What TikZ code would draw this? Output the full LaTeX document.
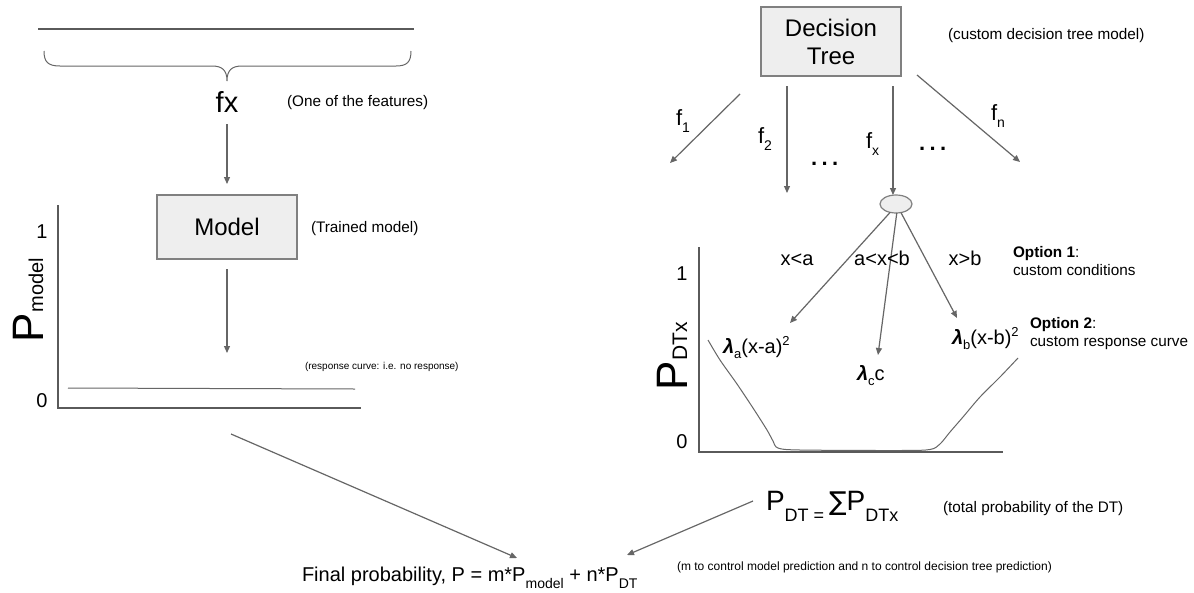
\documentclass[tikz,border=0pt]{standalone}
\usepackage{fontspec}
\setmainfont{Liberation Sans}
\newfontfamily\dejavu{DejaVu Sans}
\usetikzlibrary{arrows.meta,shapes.geometric}
\newcommand\fsz[1]{\fontsize{#1}{#1}\selectfont}
\newcommand\lam{\textbf{\textit{λ}}}
\newcommand\threedots{.\hspace{4.5pt}.\hspace{4.5pt}.}
\definecolor{linegray}{HTML}{666666}
\definecolor{axisgray}{HTML}{5A5A5A}
\definecolor{boxgray}{HTML}{808080}
\definecolor{boxfill}{HTML}{EEEEEE}
\begin{document}
\begin{tikzpicture}[x=1pt,y=-1pt,
  every node/.style={inner sep=0pt, outer sep=0pt, text=black},
  conn/.style={draw=linegray, line width=1.2pt, -{Triangle[length=7pt,width=6pt]}},
  axis/.style={draw=axisgray, line width=2.4pt},
  thin/.style={draw=linegray, line width=1pt},
  box/.style={draw=boxgray, line width=1.2pt, fill=boxfill},
  note/.style={anchor=base west, font=\fsz{15.3}},
  tiny/.style={anchor=base west, font=\fsz{10}},
  lbl/.style={anchor=base west, font=\fsz{20}},
  cond/.style={anchor=base, font=\fsz{20}},
  tick/.style={anchor=base, font=\fsz{20}},
  fl/.style={anchor=base west, font=\fsz{22}},
  dots/.style={anchor=base west, font=\fsz{22}\bfseries}
]
\fill[white] (0,0) rectangle (1194,592);
\useasboundingbox (0,0) rectangle (1194,592);

% ---------- left part ----------
\draw[draw=axisgray, line width=2.8pt] (38,29) -- (414,29);
\draw[thin] (44,51) .. controls (44,62) and (48,66) .. (60,66) -- (212,66)
  .. controls (222,66) and (227,70) .. (227,81)
  .. controls (227,70) and (232,66) .. (242,66) -- (396,66)
  .. controls (407,66) and (411,62) .. (411,51);
\coordinate (brace) at (227,81);

\node[anchor=base, font=\fsz{29}] (fx) at (227,112) {fx};
\node[note] (onefeat) at (287,106) {(One of the features)};

\node[box, minimum width=140pt, minimum height=64pt, font=\fsz{24}] (model) at (227,227) {Model};
\node[note] (trained) at (311,232) {(Trained model)};
\draw[conn, shorten <=12pt, shorten >=11pt] (fx.south) -- (model.north);
\coordinate (mend) at (227,353);
\draw[conn, shorten <=10pt] (model.south) -- (mend);

\coordinate (lo) at (58,408);
\draw[axis] (58,205) -- (lo) -- (361,408);
\draw[thin] (68,388) -- (355,389);
\node[tick] (one1) at (42,238) {1};
\node[tick] (zero1) at (42,407) {0};
\node[rotate=90, anchor=base west] (pmodel) at (43,342) {\fsz{44}P\fsz{20}model};
\node[tiny] (resp) at (305,369) {(response curve: i.e. no response)};

% ---------- decision tree ----------
\node[box, minimum width=140pt, minimum height=69pt, align=center,
      font=\fontsize{24}{28}\selectfont] (dt) at (831,41.5) {Decision\\Tree};
\node[note] (dtnote) at (948,39) {(custom decision tree model)};
\node[box, ellipse, minimum width=32pt, minimum height=18pt] (leaf) at (896,204) {};

\coordinate (f1s) at (740,94);  \coordinate (f1e) at (670,163);
\coordinate (f2s) at (787,86);  \coordinate (f2e) at (787,193);
\coordinate (fxs) at (893,86);
\coordinate (fns) at (917,75);  \coordinate (fne) at (1020,162);
\draw[conn] (f1s) -- (f1e);
\draw[conn] (f2s) -- (f2e);
\draw[conn] (fxs) -- (fxs |- leaf.north);
\draw[conn] (fns) -- (fne);

\node[fl] (lf1) at (676,125) {f\raisebox{-7pt}{\fsz{14}1}};
\node[fl] (lf2) at (758,143) {f\raisebox{-7pt}{\fsz{14}2}};
\node[fl] (lfx) at (866,148) {f\raisebox{-7pt}{\fsz{14}x}};
\node[fl] (lfn) at (991,120) {f\raisebox{-7pt}{\fsz{14}n}};
\node[dots] (dots1) at (811,165) {\threedots};
\node[dots] (dots2) at (919,150) {\threedots};

\coordinate (ca) at (790,323);
\coordinate (cc) at (878,355);
\coordinate (cb) at (957,318);
\draw[conn] (leaf.235) -- (ca);
\draw[conn] (leaf.275) -- (cc);
\draw[conn] (leaf.300) -- (cb);

\node[cond] (xa) at (797,265) {x<a};
\node[cond] (axb) at (882,265) {a<x<b};
\node[cond] (xb) at (965,265) {x>b};

\node[lbl] (la) at (723,353) {\lam\raisebox{-5pt}{\fsz{13}a}(x-a)\raisebox{8pt}{\fsz{13}2}};
\node[lbl] (lc) at (857,380) {\lam\raisebox{-5pt}{\fsz{13}c}c};
\node[lbl] (lb) at (952,344) {\lam\raisebox{-5pt}{\fsz{13}b}(x-b)\raisebox{8pt}{\fsz{13}2}};

\node[note] (op1) at (1013,257) {\textbf{Option 1}:};
\node[note] (op1t) at (1013,275) {custom conditions};
\node[note] (op2) at (1030,328) {\textbf{Option 2}:};
\node[note] (op2t) at (1030,346) {custom response curve};

\draw[axis] (699,247) -- (699,452) -- (1003,452);
\draw[thin] plot[smooth] coordinates {(708,340) (720,360) (737,384) (753,408) (767,430) (773,441) (778,448) (800,450) (900,450.5) (930,449.5) (940,444) (950,432) (963,417) (980,397) (1000,377) (1018,358)};
\node[tick] (one2) at (682,280) {1};
\node[tick] (zero2) at (682,448) {0};
\node[rotate=90, anchor=base west] (pdtx) at (687,390) {\fsz{44}P\fsz{21}DTx};

% ---------- bottom ----------
\node[anchor=base west] (pdt) at (766,510) {\fsz{28}P\raisebox{-11pt}{\fsz{18}DT = }{\dejavu\fsz{26}∑}\fsz{28}P\raisebox{-11pt}{\fsz{18}DTx}};
\node[note] (total) at (943,512) {(total probability of the DT)};

\node[lbl] (final) at (302,581) {Final probability, P = m*P\raisebox{-7pt}{\fsz{14}model} + n*P\raisebox{-7pt}{\fsz{14}DT}};
\node[anchor=base west, font=\fsz{12}] (mn) at (677,570) {(m to control model prediction and n to control decision tree prediction)};

\coordinate (b1s) at (231,434); \coordinate (b1e) at (517,558);
\coordinate (b2s) at (753,501); \coordinate (b2e) at (627,555);
\draw[conn] (b1s) -- (b1e);
\draw[conn] (b2s) -- (b2e);
\end{tikzpicture}
\end{document}
